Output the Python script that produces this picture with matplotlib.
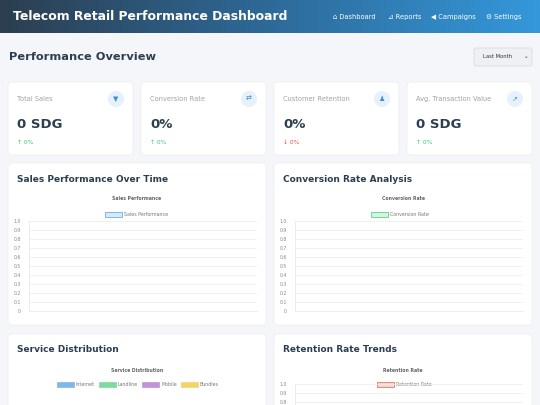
import matplotlib
matplotlib.use("Agg")
import matplotlib.pyplot as plt
import numpy as np
from matplotlib.patches import FancyBboxPatch, Circle, Rectangle
from matplotlib.colors import LinearSegmentedColormap

# --- datos ---
nav_items = ["Dashboard", "Reports", "Campaigns", "Settings"]
card_labels = ["Total Sales", "Conversion Rate", "Customer Retention", "Avg. Transaction Value"]
card_values = ["0 SDG", "0%", "0%", "0 SDG"]
card_changes = ["↑ 0%", "↑ 0%", "↓ 0%", "↑ 0%"]
card_up = [True, True, False, True]
yticks = [0, 0.1, 0.2, 0.3, 0.4, 0.5, 0.6, 0.7, 0.8, 0.9, 1.0]
ytick_labels = ["0", "0.1", "0.2", "0.3", "0.4", "0.5", "0.6", "0.7", "0.8", "0.9", "1.0"]
sales_values = []
conversion_values = []
retention_values = []
service_labels = ["Internet", "Landline", "Mobile", "Bundles"]
service_colors = ["#7fb8e6", "#7ddba0", "#bf95d6", "#f3d46a"]

W, H = 540, 405
fig = plt.figure(figsize=(5.4, 4.05), dpi=100)
fig.patch.set_facecolor("#f4f6fa")
bg = fig.add_axes([0, 0, 1, 1])
bg.axis("off")

# cabecera con degradado
grad = np.linspace(0, 1, 256).reshape(1, -1)
cmap = LinearSegmentedColormap.from_list("hdr", ["#2c3e50", "#2e6a98", "#3498db"])
bg.imshow(grad, extent=[0, W, 33, 0], aspect="auto", cmap=cmap, zorder=1)
bg.set_xlim(0, W)
bg.set_ylim(H, 0)
bg.text(13, 17, "Telecom Retail Performance Dashboard", color="white",
        fontsize=8.9, fontweight="bold", va="center", zorder=3)
nav_x = [333, 388, 431, 486]
nav_icons = ["⌂", "⊿", "◀", "⚙"]
for x, icon, name in zip(nav_x, nav_icons, nav_items):
    bg.text(x, 17, icon + " " + name, color="white", fontsize=4.8, va="center", zorder=3)

bg.text(9, 57, "Performance Overview", color="#2c3e50", fontsize=8.2,
        fontweight="bold", va="center")
bg.add_patch(FancyBboxPatch((474, 48), 58, 18, boxstyle="round,pad=0,rounding_size=2",
                            fc="#eef0f3", ec="#d5d9de", lw=0.5))
bg.text(483, 57, "Last Month", fontsize=3.8, va="center", color="#333")
bg.text(526, 57, "⌄", fontsize=4, va="center", ha="center", color="#333")


def card(x, y, w, h):
    bg.add_patch(FancyBboxPatch((x, y), w, h, boxstyle="round,pad=0,rounding_size=4",
                                fc="white", ec="#e6e9ee", lw=0.4, zorder=2))


card_x = [8, 141, 274, 407]
card_icons = ["▼", "⇄", "♟", "↗"]
for x, lab, val, ch, up, ic in zip(card_x, card_labels, card_values, card_changes, card_up, card_icons):
    card(x, 82, 125, 73)
    bg.text(x + 9, 99, lab, fontsize=4.8, color="#9aa3ad", va="center", zorder=3)
    bg.add_patch(Circle((x + 108, 99), 8, fc="#e6f1fb", ec="none", zorder=3))
    bg.text(x + 108, 99, ic, fontsize=5, color="#3b8fd9", ha="center", va="center", zorder=4)
    bg.text(x + 9, 124, val, fontsize=9.5, fontweight="bold", color="#2c3e50", va="center", zorder=3)
    bg.text(x + 9, 142, ch, fontsize=4.3, color="#2ecc71" if up else "#e74c3c", va="center", zorder=3)

chart_titles = ["Sales Performance Over Time", "Conversion Rate Analysis",
                "Service Distribution", "Retention Rate Trends"]
inner_titles = ["Sales Performance", "Conversion Rate", "Service Distribution", "Retention Rate"]
chart_pos = [(8, 163), (274, 163), (8, 334), (274, 334)]
for (x, y), t, it in zip(chart_pos, chart_titles, inner_titles):
    card(x, y, 258, 162)
    bg.text(x + 9, y + 16, t, fontsize=6.5, fontweight="bold", color="#2c3e50", va="center", zorder=3)
    bg.text(x + 129, y + 36, it, fontsize=3.3, fontweight="bold", color="#666", ha="center",
            va="center", zorder=3)


def legend_item(cx, cy, label, fc, ec):
    bg.add_patch(Rectangle((cx - 8.5, cy - 2.5), 17, 5, fc=fc, ec=ec, lw=0.7, zorder=3))
    bg.text(cx + 11, cy, label, fontsize=3.4, color="#777", va="center", zorder=3)


def empty_line_chart(x0, x1, ytop, ybottom, values):
    ax = fig.add_axes([x0 / W, 1 - ybottom / H, (x1 - x0) / W, (ybottom - ytop) / H])
    ax.plot(range(len(values)), values)
    ax.set_ylim(0, 1)
    ax.set_yticks(yticks)
    ax.set_yticklabels(ytick_labels)
    ax.set_xticks([])
    ax.tick_params(axis="y", labelsize=3.3, colors="#888", length=0, pad=6)
    ax.grid(axis="y", color="#ececec", lw=0.5)
    for s in ["top", "right"]:
        ax.spines[s].set_visible(False)
    for s in ["left", "bottom"]:
        ax.spines[s].set_color("#e6e6e6")
        ax.spines[s].set_linewidth(0.5)
    ax.patch.set_alpha(0)
    ax.set_zorder(5)
    return ax


legend_item(113, 214, "Sales Performance", "#d6e9f8", "#7fb8e6")
empty_line_chart(29, 257, 221, 311, sales_values)
legend_item(379, 214, "Conversion Rate", "#d4f3e0", "#6fd497")
empty_line_chart(295, 523, 221, 311, conversion_values)
legend_item(385, 384, "Retention Rate", "#fbd5d2", "#e9857b")
empty_line_chart(295, 523, 384, 474, retention_values)

# leyenda del gráfico de servicios
sx = [65, 107, 150, 189]
for cx, lab, col in zip(sx, service_labels, service_colors):
    bg.add_patch(Rectangle((cx - 8.5, 382), 17, 5, fc=col, ec=col, lw=0.5, zorder=3))
    bg.text(cx + 11, 384.5, lab, fontsize=3.4, color="#777", va="center", zorder=3)

fig.savefig("out.png", dpi=100, facecolor=fig.get_facecolor())
